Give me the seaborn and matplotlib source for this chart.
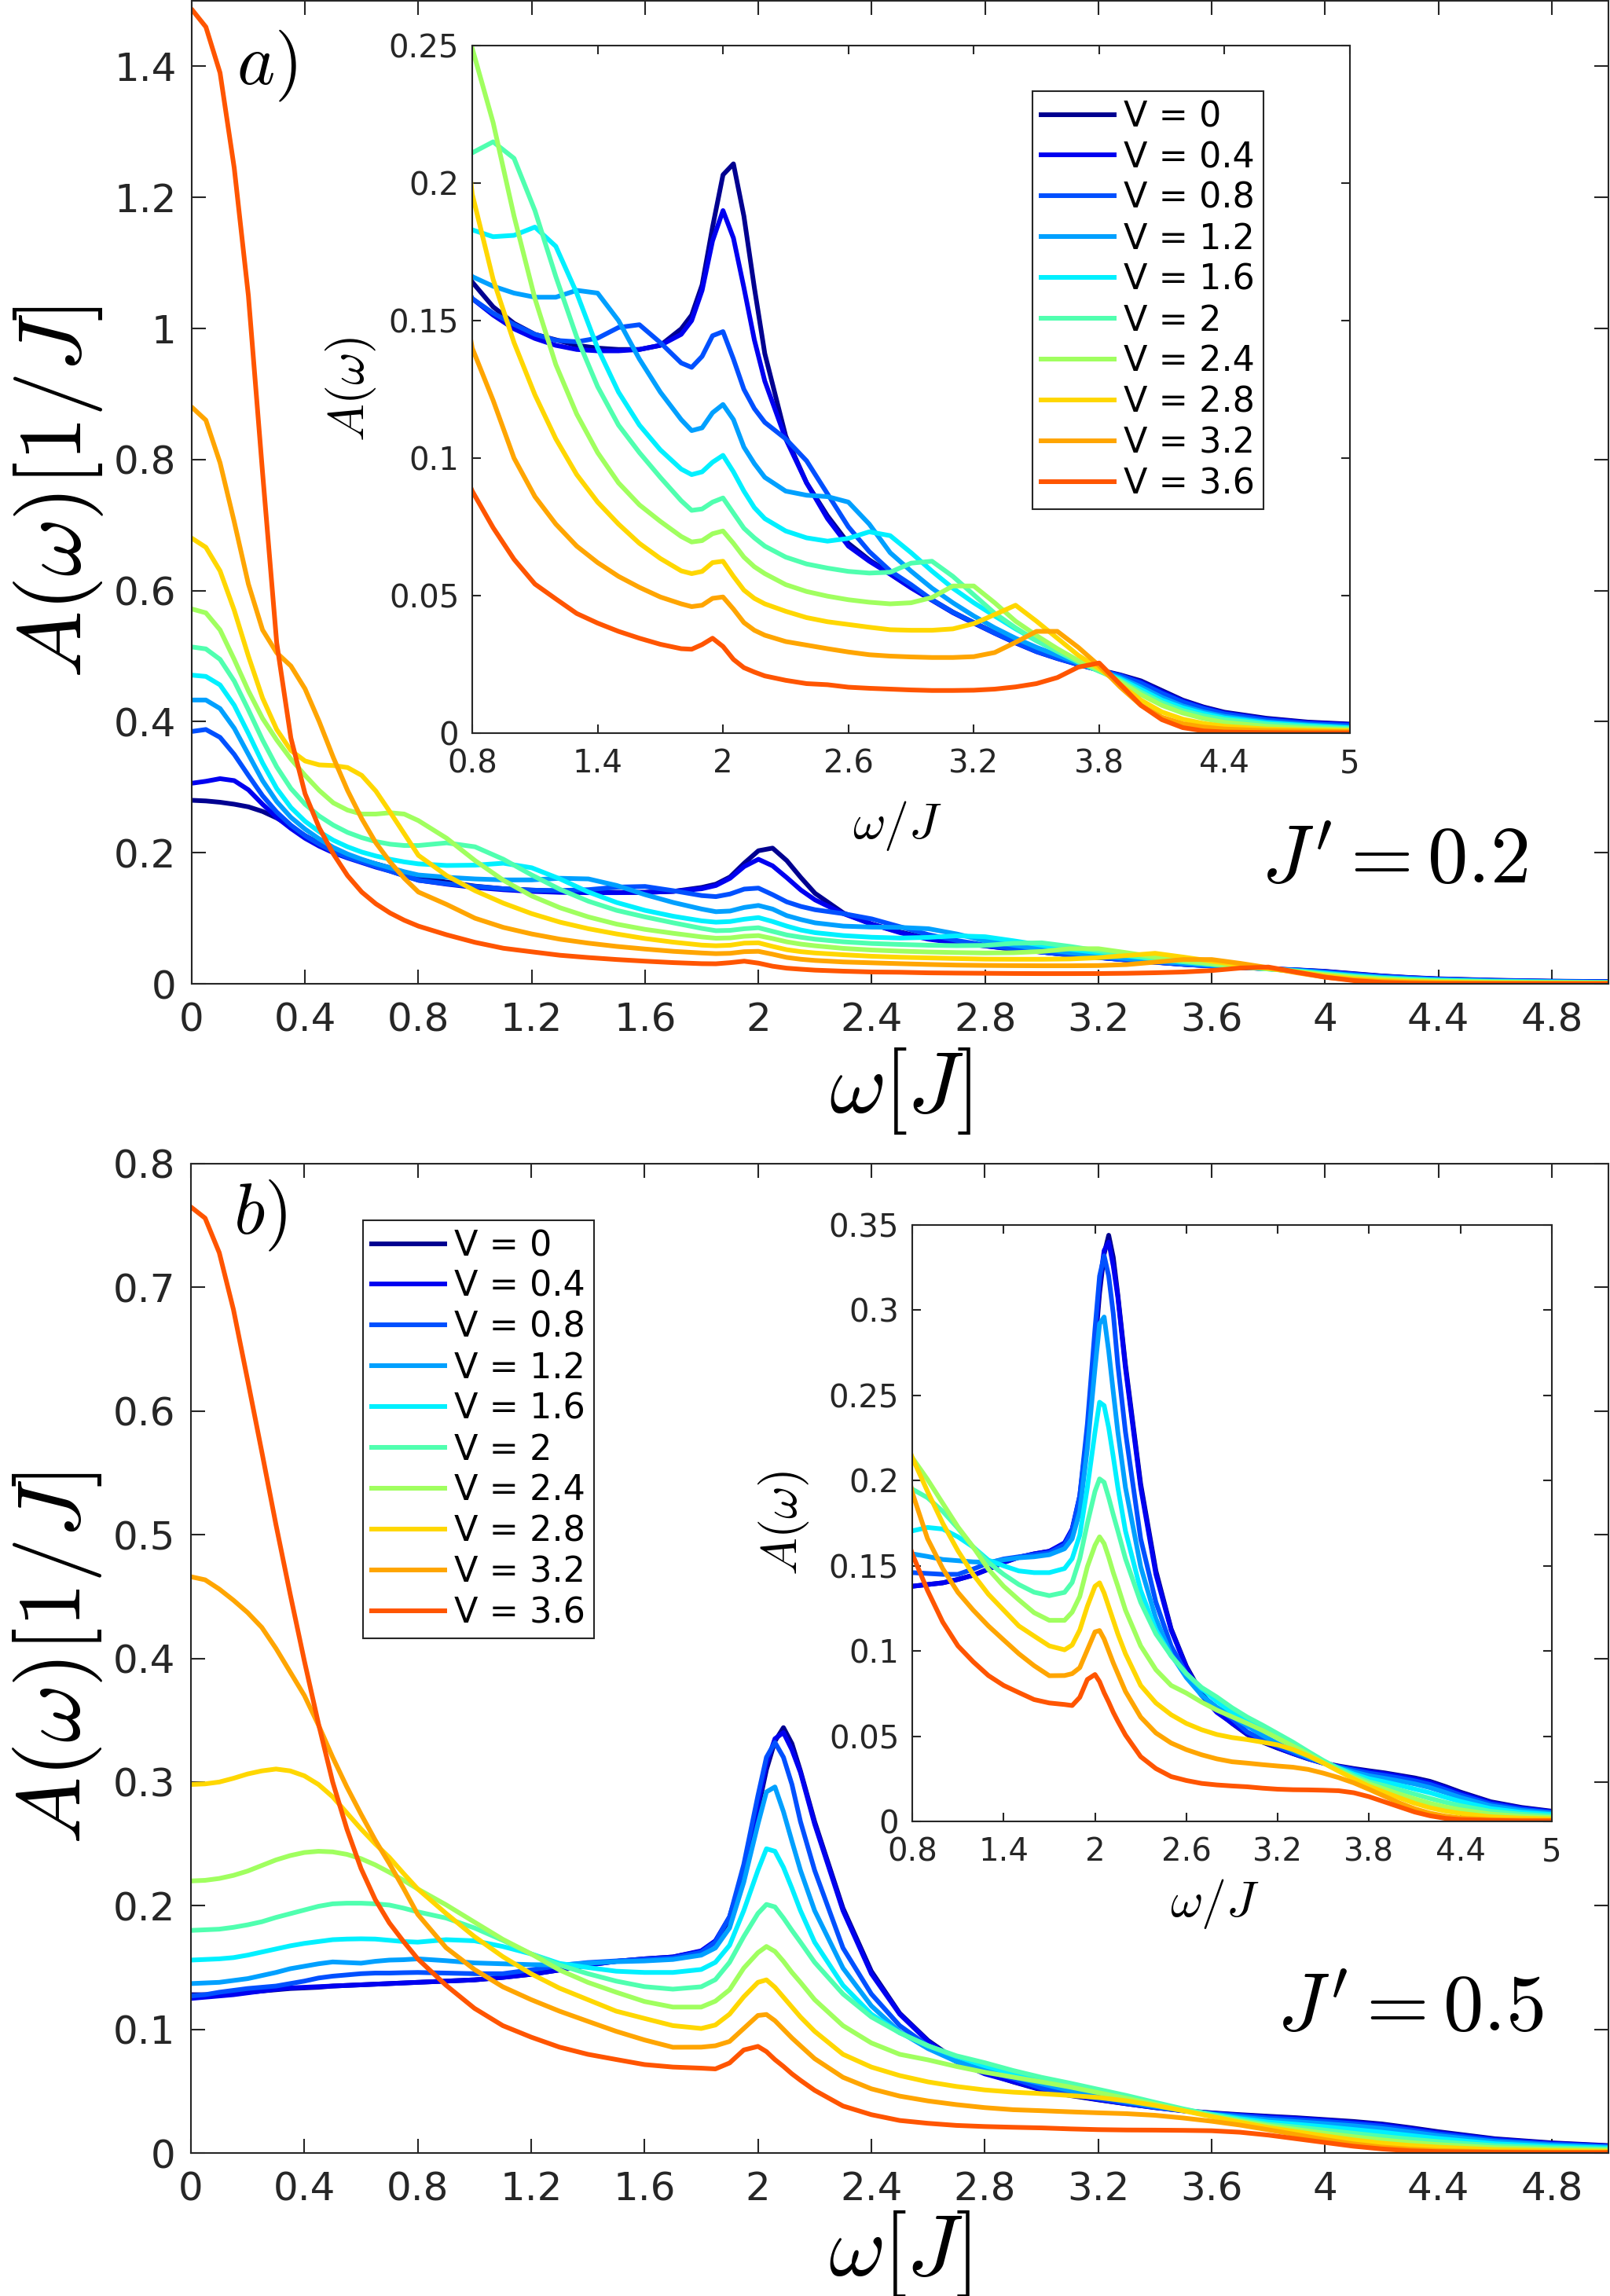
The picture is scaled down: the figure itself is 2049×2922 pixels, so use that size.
import sys
import numpy as np
import pandas as pd
import matplotlib
matplotlib.use("Agg")
import matplotlib.pyplot as plt
from matplotlib.lines import Line2D
from matplotlib.ticker import FuncFormatter
import seaborn as sns

# ---------------- data ----------------
V_labels = ["V = 0", "V = 0.4", "V = 0.8", "V = 1.2", "V = 1.6",
            "V = 2", "V = 2.4", "V = 2.8", "V = 3.2", "V = 3.6"]
colors = ["#000090", "#0000F0", "#0050FF", "#00A0FF", "#00F0FF",
          "#50FFAF", "#A0FF5F", "#FFD700", "#FFA500", "#FF5500"]

omega_a = [0, 0.05, 0.1, 0.15, 0.2, 0.25, 0.3, 0.35, 0.4, 0.45, 0.5, 0.55, 0.6, 0.65, 0.7, 0.75, 0.8,
           0.9, 1.0, 1.1, 1.2, 1.3, 1.4, 1.5, 1.6, 1.7, 1.8,
           1.85, 1.9, 1.95, 2.0, 2.05, 2.1, 2.15, 2.2,
           2.3, 2.4, 2.5, 2.6, 2.7, 2.8, 2.9, 3.0, 3.1, 3.2, 3.3, 3.4, 3.5, 3.6, 3.7, 3.8, 3.9, 4.0, 4.1, 4.2, 4.3, 4.4,
           4.6, 4.8, 5.0]

a_V00 = [0.280, 0.279, 0.277, 0.274, 0.270, 0.263, 0.253, 0.240, 0.226, 0.214, 0.204, 0.196, 0.189, 0.183, 0.177, 0.170, 0.164,
         0.155, 0.149, 0.145, 0.143, 0.141, 0.140, 0.1395, 0.1395, 0.141, 0.147,
         0.152, 0.163, 0.184, 0.203, 0.207, 0.188, 0.162, 0.138,
         0.108, 0.091, 0.079, 0.069, 0.063, 0.058, 0.053, 0.0485, 0.044, 0.0402, 0.0365, 0.033, 0.0298, 0.0273, 0.025, 0.023, 0.0212, 0.019, 0.0155, 0.012, 0.0095, 0.0076,
         0.0054, 0.004, 0.0033]
a_V04 = [0.306, 0.309, 0.313, 0.310, 0.296, 0.274, 0.254, 0.237, 0.222, 0.210, 0.200, 0.192, 0.185, 0.178, 0.172, 0.165, 0.158,
         0.152, 0.147, 0.1435, 0.141, 0.1395, 0.139, 0.139, 0.1395, 0.141, 0.145,
         0.150, 0.161, 0.179, 0.190, 0.180, 0.162, 0.143, 0.128,
         0.107, 0.091, 0.078, 0.068, 0.0625, 0.0578, 0.0528, 0.0483, 0.0438, 0.040, 0.0363, 0.0328, 0.0296, 0.0271, 0.0249, 0.0229, 0.021, 0.0186, 0.015, 0.0117, 0.0092, 0.0073,
         0.0051, 0.0038, 0.0031]
a_V08 = [0.385, 0.388, 0.376, 0.350, 0.318, 0.287, 0.262, 0.242, 0.226, 0.213, 0.202, 0.193, 0.186, 0.179, 0.172, 0.165, 0.158,
         0.1527, 0.1486, 0.145, 0.1428, 0.1423, 0.1436, 0.1475, 0.1485, 0.142, 0.1346,
         0.133, 0.137, 0.1445, 0.146, 0.136, 0.125, 0.118, 0.113,
         0.107, 0.099, 0.087, 0.075, 0.066, 0.059, 0.054, 0.0485, 0.044, 0.0402, 0.0364, 0.033, 0.0297, 0.0272, 0.025, 0.0229, 0.0209, 0.0182, 0.0145, 0.0113, 0.0089, 0.007,
         0.0048, 0.0035, 0.0028]
a_V12 = [0.433, 0.433, 0.420, 0.390, 0.350, 0.310, 0.278, 0.254, 0.236, 0.221, 0.208, 0.198, 0.190, 0.183, 0.177, 0.171, 0.166,
         0.1625, 0.160, 0.1585, 0.1585, 0.161, 0.160, 0.150, 0.136, 0.124, 0.114,
         0.110, 0.111, 0.1165, 0.1195, 0.114, 0.104, 0.098, 0.093,
         0.088, 0.0865, 0.086, 0.084, 0.076, 0.0656, 0.0589, 0.0527, 0.0474, 0.0426, 0.0383, 0.0345, 0.0312, 0.0283, 0.0254, 0.0228, 0.0202, 0.0168, 0.013, 0.0099, 0.0077, 0.0061,
         0.0041, 0.003, 0.0022]
a_V16 = [0.471, 0.469, 0.456, 0.425, 0.382, 0.337, 0.298, 0.269, 0.248, 0.232, 0.219, 0.209, 0.201, 0.195, 0.190, 0.186, 0.183,
         0.1805, 0.181, 0.184, 0.177, 0.160, 0.140, 0.124, 0.112, 0.103, 0.096,
         0.094, 0.095, 0.0985, 0.101, 0.095, 0.088, 0.082, 0.078,
         0.0735, 0.071, 0.0698, 0.0708, 0.0732, 0.0718, 0.0656, 0.0589, 0.0527, 0.0474, 0.0426, 0.0379, 0.0336, 0.0297, 0.0259, 0.0226, 0.0197, 0.0159, 0.012, 0.0092, 0.0071, 0.0055,
         0.0037, 0.0027, 0.0019]
a_V20 = [0.514, 0.511, 0.495, 0.462, 0.418, 0.372, 0.331, 0.298, 0.274, 0.256, 0.242, 0.231, 0.223, 0.217, 0.213, 0.211, 0.211,
         0.215, 0.209, 0.190, 0.166, 0.144, 0.126, 0.112, 0.102, 0.093, 0.0845,
         0.081, 0.0815, 0.084, 0.0855, 0.080, 0.0745, 0.071, 0.068,
         0.064, 0.0615, 0.060, 0.0588, 0.0582, 0.0585, 0.0618, 0.0625, 0.057, 0.0503, 0.0436, 0.0383, 0.0336, 0.0297, 0.0259, 0.0225, 0.0192, 0.0149, 0.0111, 0.0082, 0.0063, 0.0049,
         0.0033, 0.0023, 0.0016]
a_V24 = [0.572, 0.566, 0.540, 0.495, 0.447, 0.405, 0.372, 0.343, 0.318, 0.295, 0.276, 0.265, 0.259, 0.259, 0.261, 0.259, 0.249,
         0.222, 0.188, 0.158, 0.134, 0.116, 0.102, 0.091, 0.083, 0.077, 0.0715,
         0.0695, 0.070, 0.0725, 0.0735, 0.069, 0.064, 0.0605, 0.058,
         0.054, 0.0515, 0.0498, 0.0485, 0.0476, 0.047, 0.0474, 0.0493, 0.0535, 0.0535, 0.0474, 0.0407, 0.0355, 0.0307, 0.0264, 0.023, 0.0187, 0.014, 0.0101, 0.0073, 0.0053, 0.0039,
         0.0025, 0.0017, 0.0012]
a_V28 = [0.680, 0.666, 0.630, 0.570, 0.500, 0.436, 0.388, 0.356, 0.340, 0.334, 0.333, 0.330, 0.318, 0.294, 0.262, 0.229, 0.196,
         0.165, 0.142, 0.123, 0.107, 0.094, 0.084, 0.076, 0.069, 0.0635, 0.059,
         0.058, 0.0588, 0.062, 0.0625, 0.057, 0.052, 0.049, 0.047,
         0.0443, 0.042, 0.0405, 0.0395, 0.0385, 0.0376, 0.0374, 0.0374, 0.0379, 0.0398, 0.0431, 0.0465, 0.0407, 0.0345, 0.0283, 0.0235, 0.0178, 0.012, 0.0077, 0.0051, 0.0035, 0.0025,
         0.0015, 0.0011, 0.0009]
a_V32 = [0.880, 0.860, 0.795, 0.705, 0.610, 0.540, 0.505, 0.485, 0.450, 0.400, 0.345, 0.295, 0.252, 0.215, 0.186, 0.161, 0.140,
         0.121, 0.100, 0.086, 0.076, 0.068, 0.062, 0.057, 0.053, 0.0495, 0.047,
         0.046, 0.0465, 0.049, 0.0495, 0.0451, 0.0402, 0.0374, 0.0356,
         0.0333, 0.032, 0.0307, 0.0295, 0.0285, 0.028, 0.0277, 0.0275, 0.0275, 0.0278, 0.0293, 0.033, 0.037, 0.037, 0.0312, 0.0245, 0.0168, 0.0101, 0.0058, 0.0034, 0.0022, 0.0015,
         0.0009, 0.0007, 0.0005]
a_V36 = [1.487, 1.460, 1.390, 1.245, 1.050, 0.780, 0.520, 0.375, 0.290, 0.238, 0.198, 0.165, 0.140, 0.122, 0.108, 0.097, 0.088,
         0.0747, 0.0632, 0.0542, 0.0488, 0.0435, 0.040, 0.037, 0.0345, 0.0323, 0.0307,
         0.0305, 0.0322, 0.0345, 0.0315, 0.0268, 0.0238, 0.0222, 0.0208,
         0.0192, 0.018, 0.0176, 0.0167, 0.0163, 0.016, 0.0157, 0.0155, 0.0155, 0.0156, 0.016, 0.0168, 0.018, 0.0202, 0.024, 0.0255, 0.0178, 0.0101, 0.0049, 0.002, 0.0008, 0.0004,
         0.0002, 0.0001, 0.0001]

omega_b = [0, 0.05, 0.1, 0.15, 0.2, 0.25, 0.3, 0.35, 0.4, 0.45, 0.5, 0.55, 0.6, 0.65, 0.7, 0.75, 0.8,
           0.9, 1.0, 1.1, 1.2, 1.3, 1.4, 1.5, 1.6, 1.7, 1.8,
           1.85, 1.9, 1.95, 2.0, 2.03, 2.06, 2.09, 2.12, 2.15, 2.2,
           2.3, 2.4, 2.5, 2.6, 2.7, 2.8, 2.9, 3.0, 3.1, 3.2, 3.3, 3.4, 3.5, 3.6, 3.7, 3.8, 3.9, 4.0, 4.1, 4.2, 4.3, 4.4,
           4.6, 4.8, 5.0]

b_V00 = [0.128, 0.128, 0.128, 0.129, 0.130, 0.131, 0.132, 0.133, 0.1335, 0.134, 0.135, 0.1355, 0.136, 0.1365, 0.137, 0.1375, 0.138,
         0.139, 0.140, 0.142, 0.1445, 0.148, 0.152, 0.155, 0.157, 0.1585, 0.163,
         0.171, 0.189, 0.226, 0.278, 0.310, 0.333, 0.344, 0.331, 0.309, 0.268,
         0.198, 0.147, 0.113, 0.091, 0.075, 0.065, 0.0575, 0.051, 0.0465, 0.043, 0.0398, 0.0368, 0.0343, 0.0325, 0.031, 0.0297, 0.0285, 0.027, 0.0255, 0.0235, 0.0205, 0.0172,
         0.0115, 0.0082, 0.006]
b_V04 = [0.125, 0.126, 0.127, 0.128, 0.1295, 0.131, 0.1325, 0.1335, 0.134, 0.1345, 0.135, 0.1355, 0.136, 0.1365, 0.137, 0.1375, 0.138,
         0.139, 0.140, 0.142, 0.1445, 0.148, 0.152, 0.155, 0.157, 0.1585, 0.1635,
         0.1716, 0.191, 0.2286, 0.282, 0.315, 0.335, 0.340, 0.326, 0.3077, 0.266,
         0.196, 0.145, 0.1123, 0.0902, 0.074, 0.064, 0.0577, 0.0515, 0.047, 0.0432, 0.0398, 0.0367, 0.0341, 0.0322, 0.0306, 0.0292, 0.028, 0.0265, 0.0248, 0.0228, 0.0198, 0.0165,
         0.011, 0.0078, 0.0057]
b_V08 = [0.127, 0.128, 0.130, 0.1315, 0.133, 0.134, 0.135, 0.137, 0.139, 0.1415, 0.143, 0.144, 0.145, 0.1455, 0.1455, 0.1458, 0.146,
         0.1455, 0.145, 0.145, 0.1481, 0.1516, 0.154, 0.1553, 0.1565, 0.1577, 0.1623,
         0.1705, 0.191, 0.2333, 0.289, 0.320, 0.332, 0.320, 0.298, 0.268, 0.2286,
         0.1658, 0.1286, 0.103, 0.0867, 0.074, 0.0667, 0.0602, 0.0525, 0.048, 0.044, 0.0403, 0.037, 0.0342, 0.032, 0.0301, 0.0283, 0.027, 0.0255, 0.0238, 0.0217, 0.0187, 0.0155,
         0.0102, 0.0072, 0.0053]
b_V12 = [0.137, 0.1375, 0.138, 0.1395, 0.141, 0.1435, 0.146, 0.149, 0.151, 0.153, 0.1545, 0.154, 0.1535, 0.155, 0.156, 0.1563, 0.157,
         0.1555, 0.1537, 0.153, 0.1523, 0.152, 0.1535, 0.1547, 0.1553, 0.1565, 0.160,
         0.1658, 0.182, 0.219, 0.266, 0.292, 0.296, 0.276, 0.252, 0.2286, 0.196,
         0.1495, 0.119, 0.098, 0.0844, 0.074, 0.067, 0.0616, 0.056, 0.0505, 0.0457, 0.0415, 0.0377, 0.0344, 0.0315, 0.029, 0.0268, 0.0253, 0.0237, 0.022, 0.0198, 0.017, 0.014,
         0.0091, 0.0064, 0.0047]
b_V16 = [0.156, 0.1565, 0.157, 0.158, 0.160, 0.1625, 0.165, 0.1675, 0.1695, 0.171, 0.1725, 0.173, 0.1732, 0.173, 0.172, 0.171, 0.1705,
         0.1725, 0.1716, 0.167, 0.161, 0.1533, 0.150, 0.147, 0.146, 0.146, 0.1484,
         0.1542, 0.168, 0.196, 0.2286, 0.246, 0.244, 0.231, 0.214, 0.196, 0.1705,
         0.1356, 0.1123, 0.0972, 0.0867, 0.078, 0.0705, 0.064, 0.0595, 0.0545, 0.0495, 0.0446, 0.0398, 0.0352, 0.0312, 0.0278, 0.025, 0.0232, 0.0212, 0.019, 0.0168, 0.0142, 0.0117,
         0.0075, 0.0053, 0.004]
b_V20 = [0.180, 0.1805, 0.181, 0.1825, 0.1845, 0.187, 0.1905, 0.1935, 0.1965, 0.1995, 0.2015, 0.202, 0.202, 0.2015, 0.2005, 0.198, 0.195,
         0.190, 0.182, 0.172, 0.161, 0.152, 0.145, 0.139, 0.1345, 0.1325, 0.1344,
         0.1402, 0.1542, 0.175, 0.1937, 0.201, 0.199, 0.190, 0.180, 0.1705, 0.1542,
         0.1286, 0.110, 0.0972, 0.0867, 0.0786, 0.073, 0.0667, 0.0612, 0.0565, 0.0515, 0.0465, 0.041, 0.0357, 0.031, 0.0268, 0.0232, 0.021, 0.0185, 0.016, 0.0135, 0.0112, 0.0092,
         0.0059, 0.0042, 0.0031]
b_V24 = [0.220, 0.2205, 0.222, 0.2245, 0.228, 0.2325, 0.237, 0.2405, 0.243, 0.244, 0.2435, 0.2415, 0.238, 0.233, 0.227, 0.2205, 0.2135,
         0.2007, 0.1867, 0.1728, 0.161, 0.148, 0.138, 0.130, 0.1225, 0.118, 0.118,
         0.1228, 0.132, 0.1495, 0.162, 0.167, 0.163, 0.155, 0.146, 0.138, 0.124,
         0.103, 0.089, 0.0798, 0.0753, 0.070, 0.0653, 0.0614, 0.0575, 0.0534, 0.0488, 0.0442, 0.0395, 0.0345, 0.0298, 0.0257, 0.022, 0.019, 0.016, 0.0132, 0.0106, 0.0085, 0.0068,
         0.0043, 0.003, 0.0022]
b_V28 = [0.298, 0.2985, 0.300, 0.303, 0.3065, 0.309, 0.3105, 0.309, 0.305, 0.298, 0.288, 0.275, 0.262, 0.250, 0.239, 0.226, 0.2135,
         0.1937, 0.175, 0.1588, 0.1449, 0.1333, 0.124, 0.1147, 0.1088, 0.103, 0.1007,
         0.1035, 0.1123, 0.1263, 0.138, 0.140, 0.134, 0.126, 0.118, 0.110, 0.0984,
         0.0798, 0.0695, 0.0626, 0.0575, 0.0538, 0.051, 0.0492, 0.048, 0.0465, 0.0449, 0.0422, 0.0385, 0.0342, 0.0295, 0.0249, 0.0206, 0.0172, 0.0138, 0.0106, 0.008, 0.0061, 0.0047,
         0.0027, 0.0019, 0.0014]
b_V32 = [0.466, 0.4635, 0.456, 0.447, 0.437, 0.425, 0.408, 0.389, 0.370, 0.346, 0.320, 0.296, 0.274, 0.253, 0.234, 0.214, 0.193,
         0.166, 0.1484, 0.1344, 0.124, 0.1147, 0.1065, 0.0984, 0.0914, 0.0855, 0.0856,
         0.0867, 0.0902, 0.1007, 0.1112, 0.112, 0.107, 0.100, 0.093, 0.0867, 0.0763,
         0.0612, 0.0519, 0.046, 0.0421, 0.0391, 0.0367, 0.035, 0.0342, 0.0333, 0.0325, 0.0318, 0.0305, 0.0283, 0.0257, 0.0226, 0.0188, 0.0148, 0.0108, 0.0074, 0.0048, 0.0031, 0.002,
         0.001, 0.0007, 0.0005]
b_V36 = [0.765, 0.756, 0.728, 0.682, 0.625, 0.567, 0.508, 0.452, 0.398, 0.347, 0.300, 0.262, 0.230, 0.205, 0.186, 0.171, 0.157,
         0.1356, 0.117, 0.103, 0.0937, 0.0856, 0.0798, 0.0756, 0.0715, 0.0695, 0.0686,
         0.068, 0.0728, 0.0833, 0.0862, 0.082, 0.0755, 0.070, 0.064, 0.0588, 0.0507,
         0.038, 0.031, 0.0263, 0.024, 0.0223, 0.0214, 0.0208, 0.0203, 0.0195, 0.0189, 0.0186, 0.0185, 0.0183, 0.018, 0.0168, 0.0145, 0.0115, 0.0085, 0.0055, 0.0033, 0.0018, 0.0011,
         0.0006, 0.0003, 0.0003]

curves_a = [a_V00, a_V04, a_V08, a_V12, a_V16, a_V20, a_V24, a_V28, a_V32, a_V36]
curves_b = [b_V00, b_V04, b_V08, b_V12, b_V16, b_V20, b_V24, b_V28, b_V32, b_V36]

main_xticks = [0, 0.4, 0.8, 1.2, 1.6, 2.0, 2.4, 2.8, 3.2, 3.6, 4.0, 4.4, 4.8]
main_a_yticks = [0, 0.2, 0.4, 0.6, 0.8, 1.0, 1.2, 1.4]
main_b_yticks = [0, 0.1, 0.2, 0.3, 0.4, 0.5, 0.6, 0.7, 0.8]
inset_xticks = [0.8, 1.4, 2.0, 2.6, 3.2, 3.8, 4.4, 5.0]
inset_a_yticks = [0, 0.05, 0.1, 0.15, 0.2, 0.25]
inset_b_yticks = [0, 0.05, 0.1, 0.15, 0.2, 0.25, 0.3, 0.35]


def make_df(omega, curves):
    frames = []
    for lab, vals in zip(V_labels, curves):
        n = min(len(omega), len(vals))
        if len(omega) != len(vals):
            print("length mismatch", lab, len(omega), len(vals), file=sys.stderr)
        frames.append(pd.DataFrame({"omega": omega[:n], "A": vals[:n], "V": lab}))
    return pd.concat(frames, ignore_index=True)


df_a = make_df(omega_a, curves_a)
df_b = make_df(omega_b, curves_b)

# ---------------- style ----------------
plt.rcParams["font.family"] = ["DejaVu Sans"]
plt.rcParams["mathtext.fontset"] = "cm"
INK = "#262626"
LW = 4.3

fig = plt.figure(figsize=(20.49, 29.22), dpi=100)
W, H = 2049.0, 2922.0


def rect(l, r, t, b):
    return [l / W, 1 - b / H, (r - l) / W, (b - t) / H]


ax_a = fig.add_axes(rect(244, 2047, 1, 1252))
ax_b = fig.add_axes(rect(243, 2047, 1481, 2740))
in_a = fig.add_axes(rect(601, 1718, 58, 933))
in_b = fig.add_axes(rect(1161, 1975, 1559, 2318))

fmt = FuncFormatter(lambda v, p: f"{v:g}")


def draw(ax, df):
    sns.lineplot(data=df, x="omega", y="A", hue="V", hue_order=V_labels,
                 palette=colors, linewidth=LW, estimator=None, sort=False,
                 legend=False, ax=ax, solid_joinstyle="round", solid_capstyle="round")


def style(ax, xlim, ylim, xt, yt, fs, tlen, xpad, ypad):
    ax.set_xlim(*xlim)
    ax.set_ylim(*ylim)
    ax.set_xticks(xt)
    ax.set_yticks(yt)
    ax.xaxis.set_major_formatter(fmt)
    ax.yaxis.set_major_formatter(fmt)
    ax.tick_params(direction="in", length=tlen, width=1.5, top=True, right=True,
                   labelsize=fs, colors=INK)
    ax.tick_params(axis="x", pad=xpad)
    ax.tick_params(axis="y", pad=ypad)
    for s in ax.spines.values():
        s.set_linewidth(1.5)
        s.set_color(INK)
    ax.set_xlabel("")
    ax.set_ylabel("")
    ax.set_facecolor("white")


for ax, df in [(ax_a, df_a), (in_a, df_a), (ax_b, df_b), (in_b, df_b)]:
    draw(ax, df)

style(ax_a, (0, 5), (0, 1.5), main_xticks, main_a_yticks, 36, 13, 16, 14)
style(ax_b, (0, 5), (0, 0.8), main_xticks, main_b_yticks, 36, 13, 16, 14)
style(in_a, (0.8, 5), (0, 0.25), inset_xticks, inset_a_yticks, 29, 8, 14, 12)
style(in_b, (0.8, 5), (0, 0.35), inset_xticks, inset_b_yticks, 29, 8, 14, 12)

# axis labels
for ax, ylab_y in [(ax_a, -0.109), (ax_b, -0.102)]:
    ax.set_xlabel(r"$\omega[J]$", fontsize=80)
    ax.xaxis.set_label_coords(0.5, ylab_y)
    ax.xaxis.label.set_va("center")
    ax.set_ylabel(r"$A(\omega)[1/J]$", fontsize=82)
    ax.yaxis.set_label_coords(-0.094, 0.5)
    ax.yaxis.label.set_va("center")

for ax, (xc, xl, yl) in [(in_a, (0.484, -0.138, -0.135)), (in_b, (0.473, -0.201, -0.138))]:
    ax.set_xlabel(r"$\omega/J$", fontsize=46)
    ax.xaxis.set_label_coords(xc, yl)
    ax.xaxis.label.set_va("center")
    ax.set_ylabel(r"$A(\omega)$", fontsize=46)
    ax.yaxis.set_label_coords(xl, 0.5)
    ax.yaxis.label.set_va("center")

# panel tags and J' annotations
ax_a.text(0.053, 0.934, r"$a)$", transform=ax_a.transAxes, fontsize=66, ha="center", va="center")
ax_b.text(0.049, 0.948, r"$b)$", transform=ax_b.transAxes, fontsize=66, ha="center", va="center")
ax_a.text(0.849, 0.1255, r"$J' = 0.2$", transform=ax_a.transAxes, fontsize=74, ha="center", va="center")
ax_b.text(0.86, 0.146, r"$J' = 0.5$", transform=ax_b.transAxes, fontsize=74, ha="center", va="center")

# legends
handles = [Line2D([], [], color=c, lw=LW) for c in colors]


def add_legend(ax, anchor):
    leg = ax.legend(handles, V_labels, loc="upper left", bbox_to_anchor=anchor,
                    borderaxespad=0, fontsize=32, frameon=True, fancybox=False,
                    framealpha=1, edgecolor=INK, labelspacing=0.2,
                    handlelength=2.1, handletextpad=0.25, borderpad=0.25)
    leg.get_frame().set_linewidth(1.5)
    for t in leg.get_texts():
        t.set_color("black")
    return leg


add_legend(in_a, ((1314 - 601) / 1117, (933 - 116) / 875))
add_legend(ax_b, ((462 - 243) / 1804, (2740 - 1553) / 1259))

fig.savefig("out.png", dpi=100, facecolor="white")
